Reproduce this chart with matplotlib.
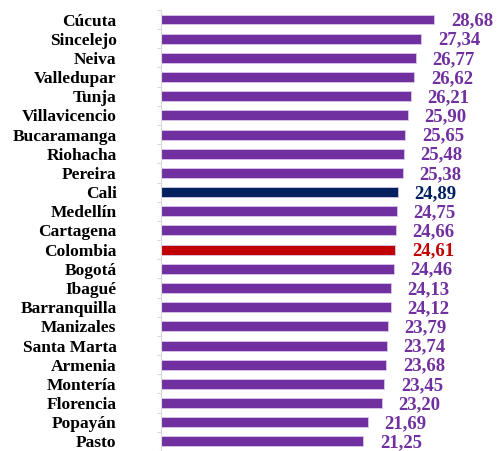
import matplotlib.pyplot as plt

cities = ['Cúcuta', 'Sincelejo', 'Neiva', 'Valledupar', 'Tunja', 'Villavicencio',
          'Bucaramanga', 'Riohacha', 'Pereira', 'Cali', 'Medellín', 'Cartagena',
          'Colombia', 'Bogotá', 'Ibagué', 'Barranquilla', 'Manizales', 'Santa Marta',
          'Armenia', 'Montería', 'Florencia', 'Popayán', 'Pasto']
values = [28.68, 27.34, 26.77, 26.62, 26.21, 25.90, 25.65, 25.48, 25.38, 24.89,
          24.75, 24.66, 24.61, 24.46, 24.13, 24.12, 23.79, 23.74, 23.68, 23.45,
          23.20, 21.69, 21.25]

purple = '#7030A0'
special = {'Cali': '#002060', 'Colombia': '#C00000'}
colors = [special.get(c, purple) for c in cities]

fig = plt.figure(figsize=(5, 4.51), dpi=100)
ax = fig.add_axes([0.322, 0.0, 0.678, 0.978])

y = list(range(len(cities)))
ax.barh(y, values, height=0.52, color=colors, edgecolor='#D9C6EA', linewidth=0.6)
ax.set_ylim(len(cities) - 0.5, -0.5)
ax.set_xlim(0, 35.6)

for yi, v, c in zip(y, values, colors):
    ax.annotate(f'{v:.2f}'.replace('.', ','), (v, yi), xytext=(12, -1),
                textcoords='offset points', va='center', ha='left',
                color=c, fontsize=13.5, fontweight='bold', family='Liberation Serif')

ax.set_yticks([i - 0.5 for i in range(len(cities) + 1)], minor=False)
ax.set_yticklabels([])
ax.set_yticks(y, minor=True)
ax.set_yticklabels(cities, minor=True, fontsize=12.5, fontweight='bold',
                   family='Liberation Serif')
ax.tick_params(axis='y', which='minor', length=0, pad=32)
ax.tick_params(axis='y', which='major', length=3, color='#D9D9D9', width=0.8)
ax.set_xticks([])
for s in ['top', 'right', 'bottom']:
    ax.spines[s].set_visible(False)
ax.spines['left'].set_color('#D9D9D9')
ax.spines['left'].set_linewidth(0.8)

fig.savefig('out.png', dpi=100)
